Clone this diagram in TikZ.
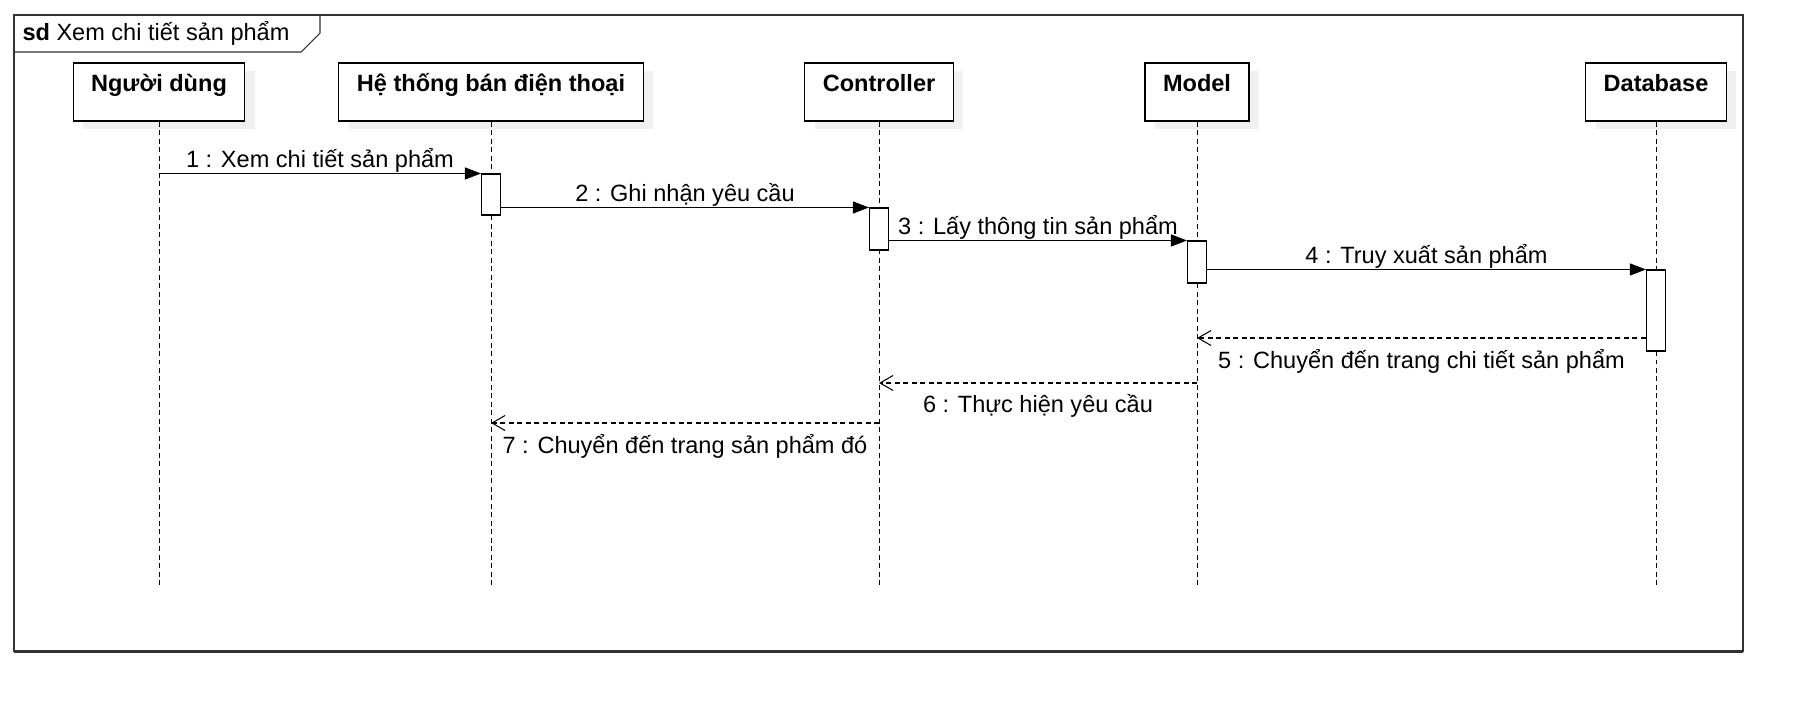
\documentclass[tikz,border=0pt]{standalone}
\usepackage{fontspec}
\setmainfont{Liberation Sans}
\usetikzlibrary{arrows.meta,shadows}

\begin{document}
\begin{tikzpicture}[x=0.02cm, y=-0.02cm, line width=0.6pt,
        font=\fontsize{13.4}{16}\selectfont,
        head/.style={shape=rectangle, draw=black, fill=white, font=\fontsize{13.4}{16}\selectfont\bfseries,
            inner xsep=0.36cm, inner ysep=0pt, text height=0.56cm, text depth=0.6cm,
            general shadow={fill=black!6, shadow xshift=0.2cm, shadow yshift=-0.16cm}},
        act/.style={shape=rectangle, draw=black, fill=white, minimum width=0.38cm, inner sep=0pt},
        life/.style={draw=black, line width=0.5pt, dash pattern=on 0.1cm off 0.07cm},
        msg/.style={draw=black, -{Triangle[length=0.32cm,width=0.24cm]}},
        ret/.style={draw=black, dash pattern=on 0.1cm off 0.07cm, -{Straight Barb[length=0.26cm,width=0.3cm]}},
        over/.style={above=-0.1cm},
        under/.style={below=0.1cm}]

    \useasboundingbox (0,0) rectangle (1803,711);

    % frame
    \draw[black!80] (14,15) rectangle (1743,651);
    \draw[black!80, line width=0.06cm] (14,651) -- (1743,651);
    \draw[black!80] (14,52) -- (301,52) -- (320,33) -- (320,15);
    \node[anchor=west, inner sep=0pt] (title) at (22,33) {\textbf{sd} Xem chi tiết sản phẩm};

    % lifelines
    \node[head] (user) at (159,92) {Người dùng};
    \node[head] (sys) at (491,92) {Hệ thống bán điện thoại};
    \node[head] (ctrl) at (879,92) {Controller};
    \node[head] (model) at (1197,92) {Model};
    \node[head] (db) at (1656,92) {Database};

    \coordinate (bottom) at (0,587);
    \draw[life] (user.south) -- (user |- bottom);
    \draw[life] (sys.south) -- (sys |- bottom);
    \draw[life] (ctrl.south) -- (ctrl |- bottom);
    \draw[life] (model.south) -- (model |- bottom);
    \draw[life] (db.south) -- (db |- bottom);

    % activations
    \node[act, minimum height=0.82cm] (act1) at (491,194.5) {};
    \node[act, minimum height=0.84cm] (act2) at (879,229) {};
    \node[act, minimum height=0.84cm] (act3) at (1197,262) {};
    \node[act, minimum height=1.62cm] (act4) at (1656,310.5) {};

    % messages
    \draw[msg] (user |- act1.north) -- node[over] {1 : Xem chi tiết sản phẩm} (act1.north west);
    \draw[msg] (act1.east |- act2.north) -- node[over] {2 : Ghi nhận yêu cầu} (act2.north west);
    \draw[msg] (act2.east |- act3.north) -- node[over] {3 : Lấy thông tin sản phẩm} (act3.north west);
    \draw[msg] (act3.east |- act4.north) -- node[over] {4 : Truy xuất sản phẩm} (act4.north west);

    \coordinate (r5) at (0,338);
    \coordinate (r6) at (0,383);
    \coordinate (r7) at (0,423);
    \draw[ret] (act4.west |- r5) -- node[under] {5 : Chuyển đến trang chi tiết sản phẩm} (model |- r5);
    \draw[ret] (model |- r6) -- node[under] {6 : Thực hiện yêu cầu} (ctrl |- r6);
    \draw[ret] (ctrl |- r7) -- node[under] {7 : Chuyển đến trang sản phẩm đó} (sys |- r7);

\end{tikzpicture}
\end{document}
